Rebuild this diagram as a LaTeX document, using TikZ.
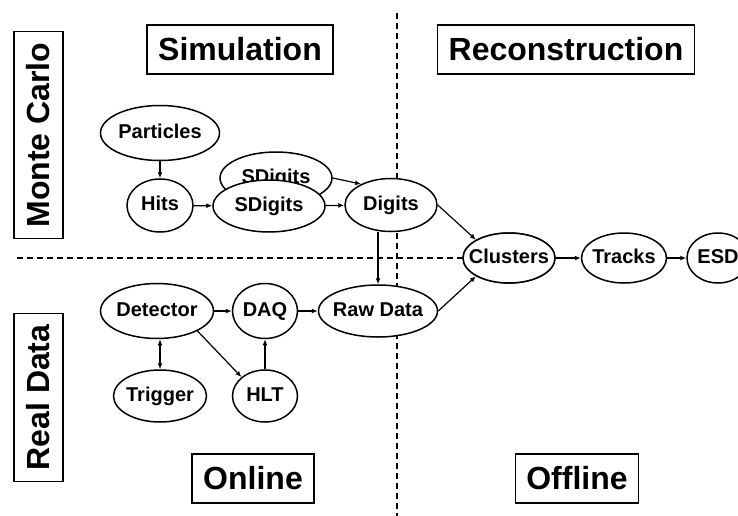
\documentclass[tikz,border=0pt]{standalone}
\usepackage{fontspec}
\setmainfont{Liberation Sans}
\usetikzlibrary{shapes.geometric,arrows.meta}
\tikzset{
	proc/.style={ellipse,draw,line width=1.5pt,fill=white,inner xsep=-8pt,inner ysep=0pt,
		text height=14.5pt,text depth=4pt,minimum height=52pt,font=\fontsize{20}{24}\selectfont\bfseries},
	tag/.style={draw,line width=1.5pt,fill=white,inner xsep=11pt,inner ysep=0pt,
		minimum height=49pt,font=\fontsize{32}{38}\selectfont\bfseries},
	flow/.style={line width=1.2pt,-{Latex[length=6pt,width=5pt]}},
	both/.style={line width=1.2pt,{Latex[length=6pt,width=5pt]}-{Latex[length=6pt,width=5pt]}},
	split/.style={line width=1.2pt,dash pattern=on 6pt off 4pt}
}
\begin{document}
\begin{tikzpicture}[x=1pt,y=-1pt]
	\clip(0,0)rectangle(738,516);
	\fill[white](0,0)rectangle(738,516);
	\coordinate(top)at(397,13);
	\coordinate(bot)at(397,516);
	\coordinate(lft)at(17,258);
	\node[tag](sim)at(240,49.5){Simulation};
	\node[tag](rec)at(566,49.5){Reconstruction};
	\node[tag](onl)at(253,478.5){Online};
	\node[tag](offl)at(577,478.5){Offline};
	\node[tag,rotate=90](mc)at(38.5,135){Monte Carlo};
	\node[tag,rotate=90](real)at(38.5,397.5){Real Data};
	\node[proc,minimum width=92pt,minimum height=50pt](clusters)at(509,258){Clusters};
	\draw[split](top)--(bot);
	\draw[split](lft)--(clusters.west);
	\node[proc,minimum width=92pt,minimum height=50pt]at(clusters){Clusters};
	\node[proc,minimum width=85pt,minimum height=50pt](tracks)at(624,258){Tracks};
	\node[proc,minimum width=62pt,minimum height=50pt](esd)at(718,258){ESD};
	\node[proc,minimum width=119pt,minimum height=55pt](particles)at(160,133){Particles};
	\node[proc,minimum width=66pt,minimum height=53pt](hits)at(160,205.5){Hits};
	\node[proc,minimum width=112pt](sdigb)at(276,178){SDigits};
	\node[proc,minimum width=112pt](sdig)at(269,206){SDigits};
	\node[proc,minimum width=92pt,minimum height=53pt](digits)at(391,205){Digits};
	\node[proc,minimum width=113pt,minimum height=55pt](detector)at(157,311){Detector};
	\node[proc,minimum width=65pt,minimum height=55pt](daq)at(265,311){DAQ};
	\node[proc,minimum width=119pt](rawdata)at(378,311){Raw Data};
	\node[proc,minimum width=93pt](trigger)at(160,396){Trigger};
	\node[proc,minimum width=65pt](hlt)at(265,396){HLT};
	\draw[flow](particles)--(hits);
	\draw[flow](hits)--(sdig);
	\draw[flow](sdig)--(digits);
	\draw[flow](sdigb.east)--(digits.145);
	\draw[flow](digits.south-|rawdata.north)--(rawdata.north);
	\draw[flow](digits.east)--(clusters.north west);
	\draw[flow](rawdata.east)--(clusters.south west);
	\draw[flow](clusters)--(tracks);
	\draw[flow](tracks)--(esd);
	\draw[flow](detector)--(daq);
	\draw[flow](daq)--(rawdata);
	\draw[both](detector.south-|trigger.north)--(trigger.north);
	\draw[flow](detector.south east)--(hlt.north west);
	\draw[flow](hlt)--(daq);
\end{tikzpicture}
\end{document}
